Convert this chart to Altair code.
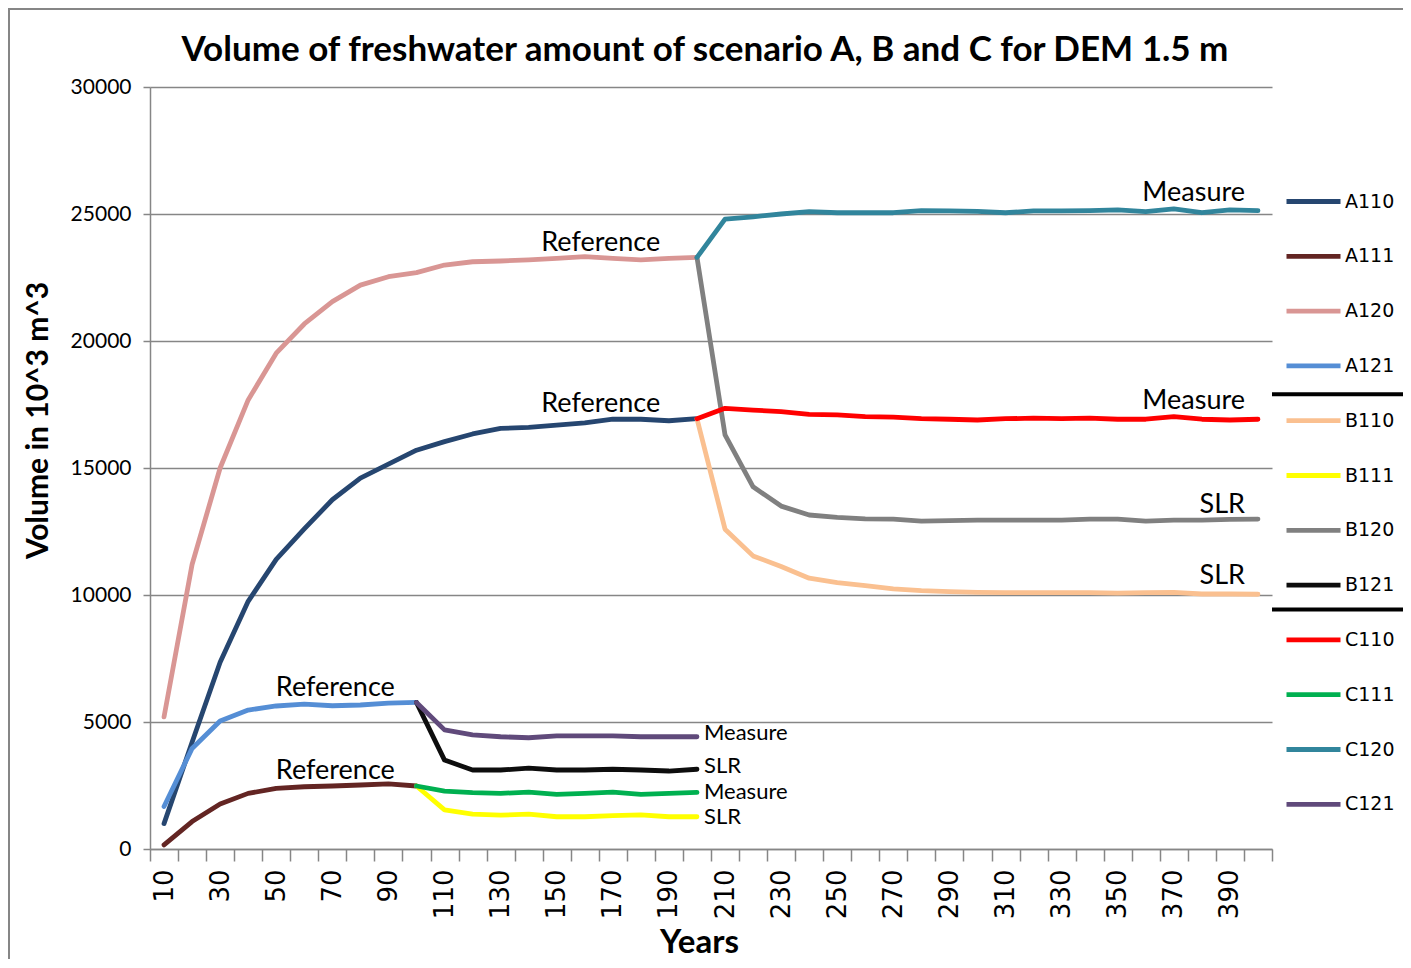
import altair as alt
import pandas as pd

years = [10, 20, 30, 40, 50, 60, 70, 80, 90, 100, 110, 120, 130, 140, 150, 160, 170, 180, 190, 200,
         210, 220, 230, 240, 250, 260, 270, 280, 290, 300, 310, 320, 330, 340, 350, 360, 370, 380, 390, 400]

years_a = years[:20]        # 10..200
years_a_short = years[:10]  # 10..100
years_mid = years[9:20]     # 100..200
years_late = years[19:]     # 200..400

A110 = [1000, 4200, 7350, 9750, 11400, 12600, 13750, 14600, 15150, 15700,
        16040, 16340, 16560, 16600, 16690, 16780, 16920, 16920, 16860, 16940]
A111 = [160, 1080, 1770, 2190, 2390, 2450, 2480, 2520, 2560, 2480]
A120 = [5200, 11200, 15000, 17680, 19520, 20670, 21550, 22200, 22530, 22690,
        22990, 23120, 23150, 23190, 23250, 23320, 23250, 23190, 23250, 23290]
A121 = [1670, 3960, 5040, 5470, 5630, 5700, 5640, 5670, 5740, 5770]
B110 = [16940, 12590, 11540, 11120, 10660, 10490, 10370, 10240, 10170, 10130, 10100,
        10090, 10090, 10090, 10090, 10070, 10090, 10100, 10040, 10040, 10030]
B111 = [2480, 1540, 1370, 1330, 1370, 1270, 1270, 1310, 1340, 1270, 1270]
B120 = [23290, 16300, 14260, 13500, 13150, 13060, 13000, 12990, 12910, 12930, 12950,
        12950, 12950, 12950, 12990, 12990, 12910, 12950, 12950, 12980, 12990]
B121 = [5770, 3500, 3110, 3110, 3180, 3110, 3110, 3140, 3110, 3070, 3140]
C110 = [16940, 17350, 17280, 17220, 17110, 17090, 17020, 17000, 16940, 16920, 16890,
        16940, 16960, 16940, 16960, 16920, 16920, 17020, 16920, 16890, 16920]
C111 = [2480, 2280, 2220, 2190, 2240, 2150, 2190, 2240, 2150, 2190, 2230]
C120 = [23290, 24800, 24890, 25000, 25090, 25050, 25050, 25050, 25130, 25120, 25100,
        25050, 25120, 25120, 25130, 25160, 25090, 25200, 25050, 25160, 25130]
C121 = [5770, 4690, 4490, 4420, 4380, 4450, 4450, 4450, 4420, 4420, 4420]

series_names = ["A110", "A111", "A120", "A121", "B110", "B111", "B120", "B121",
                "C110", "C111", "C120", "C121"]
series_colors = ["#264670", "#632523", "#D99694", "#558ED5", "#FAC090", "#FFFF00",
                 "#808080", "#0D0D0D", "#FF0000", "#00B050", "#31859C", "#604A7B"]
series_data = {
    "A110": (years_a, A110), "A111": (years_a_short, A111),
    "A120": (years_a, A120), "A121": (years_a_short, A121),
    "B110": (years_late, B110), "B111": (years_mid, B111),
    "B120": (years_late, B120), "B121": (years_mid, B121),
    "C110": (years_late, C110), "C111": (years_mid, C111),
    "C120": (years_late, C120), "C121": (years_mid, C121),
}

rows = []
for name in series_names:
    xs, ys = series_data[name]
    for xv, yv in zip(xs, ys):
        rows.append({"Years": xv, "Volume": yv, "Series": name})
df = pd.DataFrame(rows)

TITLE = "Volume of freshwater amount of scenario A, B and C for DEM 1.5 m"

# annotations
ref_hi_text = ["Reference", "Reference"]
ref_hi_x = [160, 160]
ref_hi_y = [23860, 17520]

ref_lo_text = ["Reference", "Reference"]
ref_lo_x = [70, 70]
ref_lo_y = [6340, 3070]

left_text = ["Measure", "SLR", "Measure", "SLR"]
left_x = [200, 200, 200, 200]
left_y = [4570, 3270, 2240, 1260]

right_text = ["Measure", "Measure", "SLR", "SLR"]
right_x = [400, 400, 400, 400]
right_y = [25830, 17640, 13540, 10750]

sep_values = [17900, 9430]

FONT = "Lato"

xscale = alt.Scale(domain=years, paddingInner=0, paddingOuter=0)
yscale = alt.Scale(domain=[0, 30000])

x_axis = alt.Axis(
    title="Years", titleFont=FONT, titleFontSize=33, titleFontWeight="bold", titleColor="#000000",
    titleBaseline="middle", titleAlign="center", titleX=549, titleY=93,
    labelAngle=270, labelFont="DejaVu Sans", labelFontSize=26, labelColor="#000000",
    labelPadding=8, labelOverlap=False, labelBaseline="middle", labelAlign="right",
    labelExpr="toNumber(datum.value) % 20 == 10 ? datum.label : ''",
    tickBand="extent", tickSize=12, tickColor="#868686", tickWidth=1.5,
    domainColor="#868686", domainWidth=1.5, grid=False,
)
y_axis = alt.Axis(
    title="Volume  in 10^3 m^3", titleFont=FONT, titleFontSize=30, titleFontWeight="bold",
    titleColor="#000000", titleAngle=270, titleBaseline="middle", titleX=-112, titleY=333,
    values=[0, 5000, 10000, 15000, 20000, 25000, 30000], format="d",
    labelFont=FONT, labelFontSize=21, labelColor="#000000", labelPadding=12,
    tickSize=7, tickColor="#868686", tickWidth=1.5,
    domainColor="#868686", domainWidth=1.5,
    grid=True, gridColor="#868686", gridWidth=1.5,
)

lines = alt.Chart(df).mark_line(strokeWidth=4.8, strokeCap="round", strokeJoin="round").encode(
    x=alt.X("Years:O", scale=xscale, axis=x_axis),
    y=alt.Y("Volume:Q", scale=yscale, axis=y_axis),
    color=alt.Color("Series:N", scale=alt.Scale(domain=series_names, range=series_colors),
                    legend=alt.Legend(title=None, orient="none", legendX=1134, legendY=85,
                                      symbolType="stroke", symbolSize=2916, symbolStrokeWidth=4.8,
                                      labelFont="DejaVu Sans", labelFontSize=19, labelColor="#000000",
                                      labelOffset=2, rowPadding=14.8, padding=0)),
    detail="Series:N",
)

ref_hi_df = pd.DataFrame({"t": ref_hi_text, "Years": ref_hi_x, "Volume": ref_hi_y})
ref_lo_df = pd.DataFrame({"t": ref_lo_text, "Years": ref_lo_x, "Volume": ref_lo_y})
left_df = pd.DataFrame({"t": left_text, "Years": left_x, "Volume": left_y})
right_df = pd.DataFrame({"t": right_text, "Years": right_x, "Volume": right_y})

ref_hi_labels = alt.Chart(ref_hi_df).mark_text(font=FONT, fontSize=27, align="center",
                                               baseline="middle", dx=16, color="#000000").encode(
    x="Years:O", y="Volume:Q", text="t:N")
ref_lo_labels = alt.Chart(ref_lo_df).mark_text(font=FONT, fontSize=27, align="center",
                                               baseline="middle", dx=3, color="#000000").encode(
    x="Years:O", y="Volume:Q", text="t:N")
left_labels = alt.Chart(left_df).mark_text(font=FONT, fontSize=22, align="left",
                                           baseline="middle", dx=7, color="#000000").encode(
    x="Years:O", y="Volume:Q", text="t:N")
right_labels = alt.Chart(right_df).mark_text(font=FONT, fontSize=27, align="right",
                                             baseline="middle", dx=-13, color="#000000").encode(
    x="Years:O", y="Volume:Q", text="t:N")

sep_df = pd.DataFrame({"Volume": sep_values})
separators = alt.Chart(sep_df).mark_rule(color="#000000", strokeWidth=4).encode(
    x=alt.value(1122), x2=alt.value(1256), y="Volume:Q")

one = pd.DataFrame({"a": [0]})
border = alt.Chart(one).mark_rect(
    fill="transparent", stroke="#868686", strokeWidth=2).encode(
    x=alt.value(-141), x2=alt.value(1254), y=alt.value(-78), y2=alt.value(960))

title_mark = alt.Chart(one).mark_text(
    font=FONT, fontSize=35, fontWeight="bold", color="#000000", align="center",
    baseline="middle").encode(
    x=alt.value(555), y=alt.value(-37), text=alt.value(TITLE))

chart = alt.layer(border, lines, ref_hi_labels, ref_lo_labels, left_labels, right_labels,
                  separators, title_mark).properties(
    width=1122, height=762,
    padding={"left": 142, "top": 79, "right": 131, "bottom": 110},
    autosize=alt.AutoSizeParams(type="none"),
).configure_view(stroke=None)

chart.save("out.html", embed_options={"renderer": "svg", "actions": False})
